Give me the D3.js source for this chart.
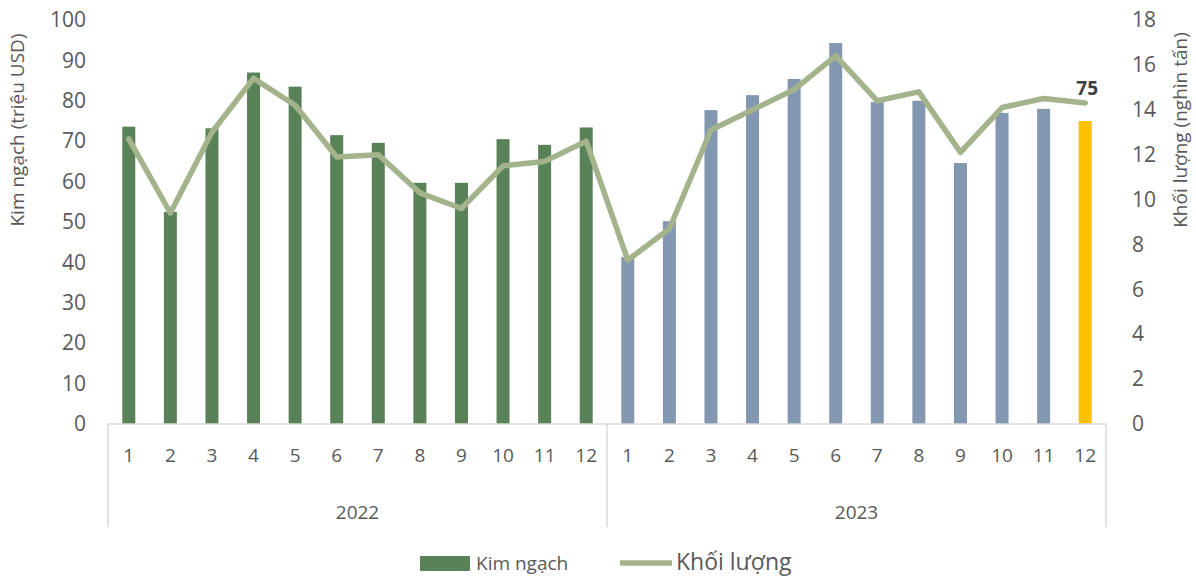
<!DOCTYPE html>
<html>
<head>
<meta charset="utf-8">
<script src="https://cdn.jsdelivr.net/npm/d3@7"></script>
<style>
  body { margin: 0; background: #fff; }
  svg text { font-family: "Open Sans", sans-serif; fill: #595959; }
</style>
</head>
<body>
<div id="chart"></div>
<script>
// data
var years = ["2022", "2023"];
var months = ["1","2","3","4","5","6","7","8","9","10","11","12"];
var kimNgach2022 = [73.6, 52.5, 73.2, 87.0, 83.5, 71.5, 69.6, 59.7, 59.7, 70.5, 69.1, 73.4];
var kimNgach2023 = [41.3, 50.2, 77.7, 81.4, 85.4, 94.3, 79.7, 80.0, 64.6, 77.0, 78.0, 75.0];
var khoiLuong2022 = [12.7, 9.4, 13.0, 15.4, 14.2, 11.9, 12.0, 10.3, 9.6, 11.5, 11.7, 12.6];
var khoiLuong2023 = [7.3, 8.7, 13.1, 14.0, 14.9, 16.4, 14.4, 14.8, 12.1, 14.1, 14.5, 14.3];
var leftTicks = [0,10,20,30,40,50,60,70,80,90,100];
var rightTicks = [0,2,4,6,8,10,12,14,16,18];

var svgWidth = 1196, svgHeight = 577;
var margin = {top: 20, right: 90, bottom: 153, left: 108};
var width = svgWidth - margin.left - margin.right;
var height = svgHeight - margin.top - margin.bottom;

// build one row per bar
var rows = [];
years.forEach(function(y, yi) {
  var kn = yi == 0 ? kimNgach2022 : kimNgach2023;
  var kl = yi == 0 ? khoiLuong2022 : khoiLuong2023;
  months.forEach(function(m, mi) {
    rows.push({key: y + "-" + m, year: y, month: m, kn: kn[mi], kl: kl[mi]});
  });
});

var svg = d3.select("#chart").append("svg")
  .attr("width", svgWidth)
  .attr("height", svgHeight);

var chartGroup = svg.append("g")
  .attr("transform", `translate(${margin.left}, ${margin.top})`);

var x = d3.scaleBand().domain(rows.map(r => r.key)).range([0, width]);
var yLeft = d3.scaleLinear().domain([0, 100]).range([height, 0]);
var yRight = d3.scaleLinear().domain([0, 18]).range([height, 0]);

// bars
var barW = 13;
chartGroup.selectAll("rect.bar")
  .data(rows)
  .enter()
  .append("rect")
  .attr("class", "bar")
  .attr("x", r => x(r.key) + x.bandwidth() / 2 - barW / 2)
  .attr("width", barW)
  .attr("y", r => yLeft(r.kn))
  .attr("height", r => height - yLeft(r.kn))
  .attr("fill", (r, i) => i == rows.length - 1 ? "#ffc000" : (r.year == "2022" ? "#5a8259" : "#8497b0"));

// line
var line = d3.line()
  .x(r => x(r.key) + x.bandwidth() / 2)
  .y(r => yRight(r.kl));
chartGroup.append("path")
  .datum(rows)
  .attr("d", line)
  .attr("fill", "none")
  .attr("stroke", "#a3b38b")
  .attr("stroke-width", 5.5)
  .attr("stroke-linejoin", "round")
  .attr("stroke-linecap", "round");

// label on the last bar
var last = rows[rows.length - 1];
chartGroup.append("text")
  .attr("x", x(last.key) + x.bandwidth() / 2 + 2)
  .attr("y", yRight(last.kl) - 8)
  .attr("text-anchor", "middle")
  .style("font-size", "19px")
  .style("font-weight", "bold")
  .style("fill", "#404040")
  .text(d3.format("d")(last.kn));

// left axis
var leftAxis = d3.axisLeft(yLeft).tickValues(leftTicks).tickSize(0).tickPadding(22);
var gl = chartGroup.append("g").call(leftAxis);
gl.select(".domain").remove();
gl.selectAll("text").style("font-size", "21px").style("font-family", "Open Sans");

// right axis
var rightAxis = d3.axisRight(yRight).tickValues(rightTicks).tickSize(0).tickPadding(26);
var gr = chartGroup.append("g").attr("transform", `translate(${width}, 0)`).call(rightAxis);
gr.select(".domain").remove();
gr.selectAll("text").style("font-size", "21px").style("font-family", "Open Sans");

// category axis with two levels
var axisColor = "#d9d9d9";
chartGroup.append("line")
  .attr("x1", 0).attr("x2", width)
  .attr("y1", height).attr("y2", height)
  .attr("stroke", axisColor).attr("stroke-width", 1.5);

var bottomAxis = d3.axisBottom(x).tickSize(0).tickPadding(25).tickFormat(k => k.split("-")[1]);
var gb = chartGroup.append("g").attr("transform", `translate(0, ${height})`).call(bottomAxis);
gb.select(".domain").remove();
gb.selectAll("text").style("font-size", "19px").style("font-family", "Open Sans");

var yearScale = d3.scaleBand().domain(years).range([0, width]);
[0, width / 2, width].forEach(function(px) {
  chartGroup.append("line")
    .attr("x1", px).attr("x2", px)
    .attr("y1", height).attr("y2", height + 103)
    .attr("stroke", axisColor).attr("stroke-width", 1.5);
});
chartGroup.selectAll("text.year")
  .data(years)
  .enter()
  .append("text")
  .attr("class", "year")
  .attr("x", d => yearScale(d) + yearScale.bandwidth() / 2)
  .attr("y", height + 95)
  .attr("text-anchor", "middle")
  .style("font-size", "19px")
  .text(d => d);

// axis titles
svg.append("text")
  .attr("transform", `translate(24, 130) rotate(-90)`)
  .attr("text-anchor", "middle")
  .style("font-size", "19px")
  .text("Kim ngạch (triệu USD)");

svg.append("text")
  .attr("transform", `translate(1187, 130) rotate(-90)`)
  .attr("text-anchor", "middle")
  .style("font-size", "19px")
  .text("Khối lượng (nghìn tấn)");

// legend
var legend = svg.append("g");
legend.append("rect")
  .attr("x", 420).attr("y", 556).attr("width", 50).attr("height", 15)
  .attr("fill", "#5a8259");
legend.append("text")
  .attr("x", 476).attr("y", 570)
  .style("font-size", "19px")
  .text("Kim ngạch");
legend.append("line")
  .attr("x1", 620).attr("x2", 672).attr("y1", 563).attr("y2", 563)
  .attr("stroke", "#a3b38b").attr("stroke-width", 5.5);
legend.append("text")
  .attr("x", 676).attr("y", 570)
  .style("font-size", "23px")
  .text("Khối lượng");
</script>
</body>
</html>
